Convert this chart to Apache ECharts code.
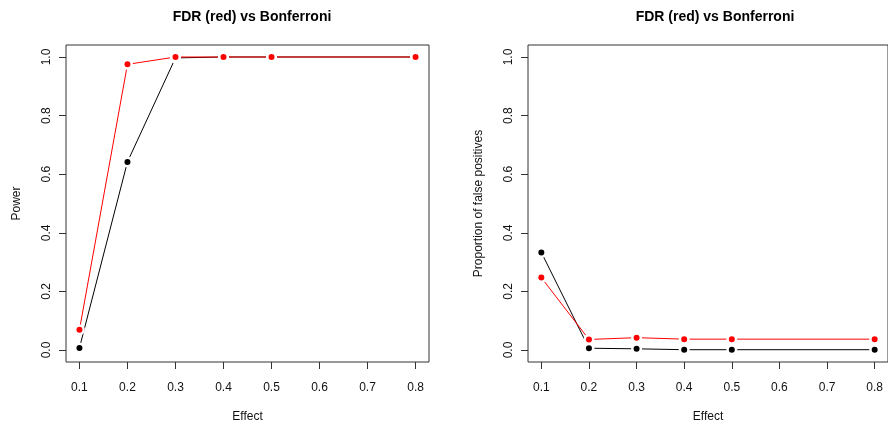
<!DOCTYPE html>
<html>
<head>
<meta charset="utf-8">
<script src="https://cdn.jsdelivr.net/npm/echarts@6/dist/echarts.min.js"></script>
<style>html,body{margin:0;padding:0;background:#fff;}#c{width:888px;height:428px;}</style>
</head>
<body>
<div id="c"></div>
<script>
const effect = [0.1, 0.2, 0.3, 0.4, 0.5, 0.8];
const powerBonferroni = [0.007, 0.642, 0.997, 1.0, 1.0, 1.0];
const powerFDR = [0.069, 0.975, 1.0, 1.0, 1.0, 1.0];
const fpBonferroni = [0.333, 0.006, 0.004, 0.001, 0.001, 0.001];
const fpFDR = [0.247, 0.036, 0.042, 0.037, 0.037, 0.037];
const xTicks = [0.1, 0.2, 0.3, 0.4, 0.5, 0.6, 0.7, 0.8];
const yTicks = [0, 0.2, 0.4, 0.6, 0.8, 1.0];
const titleText = 'FDR (red) vs Bonferroni';
const xName = 'Effect';
const yNames = ['Power', 'Proportion of false positives'];

const FONT = 'Liberation Sans, Arial, sans-serif';
const pairs = (xs, ys) => xs.map((x, i) => [x, ys[i]]);

function xAxis(idx) {
  return {
    type: 'value', gridIndex: idx, min: 0.072, max: 0.828, position: 'bottom',
    name: xName, nameLocation: 'middle', nameGap: 49,
    nameTextStyle: {fontFamily: FONT, fontSize: 12, color: '#111'},
    axisLine: {show: false, onZero: false},
    axisTick: {show: true, inside: false, length: 7, customValues: xTicks, lineStyle: {color: '#333'}},
    axisLabel: {customValues: xTicks, margin: 20, fontFamily: FONT, fontSize: 12, color: '#111',
      formatter: v => v.toFixed(1)},
    splitLine: {show: false}
  };
}
function yAxis(idx) {
  return {
    type: 'value', gridIndex: idx, min: -0.041, max: 1.041, position: 'left',
    name: yNames[idx], nameLocation: 'middle', nameGap: 43,
    nameTextStyle: {fontFamily: FONT, fontSize: 12, color: '#111'},
    axisLine: {show: false, onZero: false},
    axisTick: {show: true, inside: false, length: 7, customValues: yTicks, lineStyle: {color: '#333'}},
    axisLabel: {customValues: yTicks, margin: 13, rotate: 90, fontFamily: FONT, fontSize: 12, color: '#111',
      formatter: v => v.toFixed(1)},
    splitLine: {show: false}
  };
}
function series(idx, ys, color) {
  return {
    type: 'line', xAxisIndex: idx, yAxisIndex: idx, data: pairs(effect, ys),
    symbol: 'circle', symbolSize: 8.5, showAllSymbol: true,
    lineStyle: {color: color, width: 1},
    itemStyle: {color: color, borderColor: '#fff', borderWidth: 2.5},
    emphasis: {disabled: true}, animation: false
  };
}
const chart = echarts.init(document.getElementById('c'), null, {renderer: 'canvas'});
chart.setOption({
  backgroundColor: '#fff',
  animation: false,
  title: [
    {text: titleText, left: 247, top: 5, textAlign: 'center',
     textStyle: {fontFamily: FONT, fontSize: 14, fontWeight: 'bold', color: '#000'}},
    {text: titleText, left: 710, top: 5, textAlign: 'center',
     textStyle: {fontFamily: FONT, fontSize: 14, fontWeight: 'bold', color: '#000'}}
  ],
  grid: [
    {left: 66, top: 45, width: 363, height: 318, show: true, borderColor: '#333', borderWidth: 1, backgroundColor: 'transparent'},
    {left: 528, top: 45, width: 364, height: 318, show: true, borderColor: '#333', borderWidth: 1, backgroundColor: 'transparent'}
  ],
  xAxis: [xAxis(0), xAxis(1)],
  yAxis: [yAxis(0), yAxis(1)],
  series: [
    series(0, powerBonferroni, '#000'),
    series(0, powerFDR, '#ff0000'),
    series(1, fpBonferroni, '#000'),
    series(1, fpFDR, '#ff0000')
  ]
});
</script>
</body>
</html>
